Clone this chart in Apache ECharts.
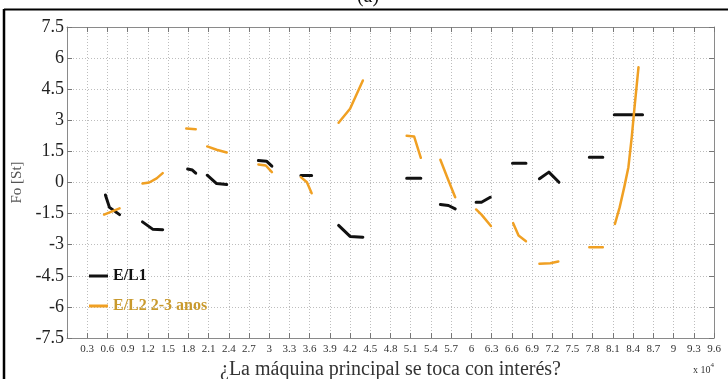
<!DOCTYPE html>
<html>
<head>
<meta charset="utf-8">
<script src="https://cdn.jsdelivr.net/npm/echarts@6/dist/echarts.min.js"></script>
<style>
html,body{margin:0;padding:0;background:#fff;}
#chart{width:728px;height:379px;}
</style>
</head>
<body>
<div id="chart"></div>
<script>
// Data (x in units of 10^4), null separates line pieces
const seriesNames = ['E/L1', 'E/L2 2-3 anos'];
const el1X = [0.57,0.63,0.78,null, 1.12,1.27,1.42,null, 1.79,1.86,1.91,null, 2.08,2.22,2.37,null, 2.84,2.96,3.04,null, 3.47,3.63,null, 4.03,4.2,4.39,null, 5.04,5.25,null, 5.54,5.66,5.76,null, 6.07,6.15,6.28,null, 6.61,6.81,null, 7.01,7.15,7.3,null, 7.75,7.95,null, 8.12,8.54];
const el1Y = [-0.6,-1.2,-1.55,null, -1.9,-2.25,-2.28,null, 0.65,0.6,0.45,null, 0.35,-0.05,-0.1,null, 1.06,1.03,0.79,null, 0.34,0.34,null, -2.07,-2.6,-2.64,null, 0.21,0.21,null, -1.06,-1.11,-1.27,null, -0.95,-0.95,-0.71,null, 0.93,0.93,null, 0.18,0.5,0.01,null, 1.22,1.22,null, 3.27,3.27];
const el2X = [0.55,0.78,null, 1.12,1.22,1.33,1.42,null, 1.77,1.91,null, 2.08,2.22,2.37,null, 2.84,2.95,3.04,null, 3.47,3.56,3.63,null, 4.03,4.2,4.39,null, 5.04,5.15,5.25,null, 5.54,5.66,5.76,null, 6.07,6.15,6.29,null, 6.62,6.7,6.81,null, 7.01,7.17,7.29,null, 7.75,7.95,null, 8.13,8.2,8.27,8.33,8.38,8.42,8.48];
const el2Y = [-1.55,-1.25,null, -0.05,0,0.2,0.45,null, 2.6,2.57,null, 1.74,1.58,1.45,null, 0.87,0.82,0.5,null, 0.26,0.01,-0.52,null, 2.88,3.56,4.92,null, 2.25,2.22,1.19,null, 1.1,0.1,-0.71,null, -1.3,-1.55,-2.1,null, -1.96,-2.56,-2.83,null, -3.92,-3.89,-3.81,null, -3.12,-3.12,null, -2.0,-1.2,-0.2,0.74,2.2,3.6,5.56];
const xRange = [0, 9.6, 0.3];
const yRange = [-7.5, 7.5, 1.5];
const xTitle = '¿La máquina principal se toca con interés?';
const yTitle = 'Fo [St]';
const panelTitle = '(a)';

function pairs(xs, ys) {
  return xs.map((x, i) => (x === null || ys[i] === null) ? ['-', '-'] : [x, ys[i]]);
}
const serif = '"Liberation Serif", "DejaVu Serif", serif';
const frameColor = '#8a8a8a';
const gridColor = '#bdbdbd';

const chart = echarts.init(document.getElementById('chart'), null, {renderer: 'canvas'});
const fmt = v => (Math.abs(v) < 1e-9 ? '' : String(+v.toFixed(1)));
const fmtY = v => String(+v.toFixed(1));

chart.setOption({
  animation: false,
  backgroundColor: '#fff',
  grid: {left: 67, right: 14, top: 27, bottom: 41, containLabel: false, outerBoundsMode: 'none'},
  xAxis: [{
    type: 'value', min: xRange[0], max: xRange[1], interval: xRange[2],
    position: 'bottom',
    axisLine: {show: true, onZero: false, lineStyle: {color: frameColor, width: 1}},
    axisTick: {show: true, inside: true, length: 5, lineStyle: {color: '#777'}},
    axisLabel: {formatter: fmt, fontFamily: serif, fontSize: 11, color: '#333', margin: 6, showMinLabel: true, showMaxLabel: true},
    splitLine: {show: true, lineStyle: {color: gridColor, type: [1, 2], width: 1}},
    name: xTitle, nameLocation: 'middle', nameGap: 17,
    nameTextStyle: {fontFamily: serif, fontSize: 20, color: '#333'}
  }, {
    type: 'value', min: xRange[0], max: xRange[1], interval: xRange[2],
    position: 'top',
    axisLine: {show: true, onZero: false, lineStyle: {color: frameColor, width: 1}},
    axisTick: {show: true, inside: true, length: 5, lineStyle: {color: '#777'}},
    axisLabel: {show: false},
    splitLine: {show: false}
  }],
  yAxis: [{
    type: 'value', min: yRange[0], max: yRange[1], interval: yRange[2],
    position: 'left',
    axisLine: {show: true, onZero: false, lineStyle: {color: frameColor, width: 1}},
    axisTick: {show: true, inside: true, length: 5, lineStyle: {color: '#777'}},
    axisLabel: {formatter: fmtY, fontFamily: serif, fontSize: 18, color: '#222', margin: 3},
    splitLine: {show: true, lineStyle: {color: gridColor, type: [1, 2], width: 1}},
    name: yTitle, nameLocation: 'middle', nameGap: 38, nameRotate: 90,
    nameTextStyle: {fontFamily: serif, fontSize: 15, color: '#555'}
  }, {
    type: 'value', min: yRange[0], max: yRange[1], interval: yRange[2],
    position: 'right',
    axisLine: {show: true, onZero: false, lineStyle: {color: frameColor, width: 1}},
    axisTick: {show: true, inside: true, length: 5, lineStyle: {color: '#777'}},
    axisLabel: {show: false},
    splitLine: {show: false}
  }],
  legend: {
    orient: 'vertical', left: 84, top: 263, itemGap: 14,
    itemWidth: 19, itemHeight: 3, icon: 'rect',
    textStyle: {fontFamily: serif, fontSize: 16, fontWeight: 'bold', lineHeight: 14},
    data: [
      {name: seriesNames[0], textStyle: {color: '#111'}},
      {name: seriesNames[1], textStyle: {color: '#C99A2E'}}
    ]
  },
  graphic: [
    {type: 'line', shape: {x1: 4, y1: 9.5, x2: 728, y2: 9.5}, style: {stroke: '#000', lineWidth: 2}, silent: true},
    {type: 'line', shape: {x1: 4, y1: 9, x2: 4, y2: 379}, style: {stroke: '#000', lineWidth: 2.5}, silent: true},
    {type: 'text', x: 368, y: 7, style: {text: panelTitle, font: '20px ' + serif, fill: '#111', align: 'center', verticalAlign: 'bottom'}},
    {type: 'text', x: 693, y: 361, style: {
      text: '{a|x 10}{b|4}', align: 'left', verticalAlign: 'top',
      rich: {a: {fontFamily: serif, fontSize: 10, fill: '#333', padding: [4,0,0,0]}, b: {fontFamily: serif, fontSize: 7, fill: '#333', padding: [0,0,6,0]}}
    }}
  ],
  series: [
    {
      name: seriesNames[0], type: 'line', xAxisIndex: 0, yAxisIndex: 0,
      data: pairs(el1X, el1Y), showSymbol: false, symbol: 'none', connectNulls: false,
      itemStyle: {color: '#111'},
      lineStyle: {color: '#111', width: 3, cap: 'round', join: 'round'}, z: 2
    },
    {
      name: seriesNames[1], type: 'line', xAxisIndex: 0, yAxisIndex: 0,
      data: pairs(el2X, el2Y), showSymbol: false, symbol: 'none', connectNulls: false,
      itemStyle: {color: '#F0A023'},
      lineStyle: {color: '#F0A023', width: 2.5, cap: 'round', join: 'round'}, z: 3
    }
  ]
});
</script>
</body>
</html>
